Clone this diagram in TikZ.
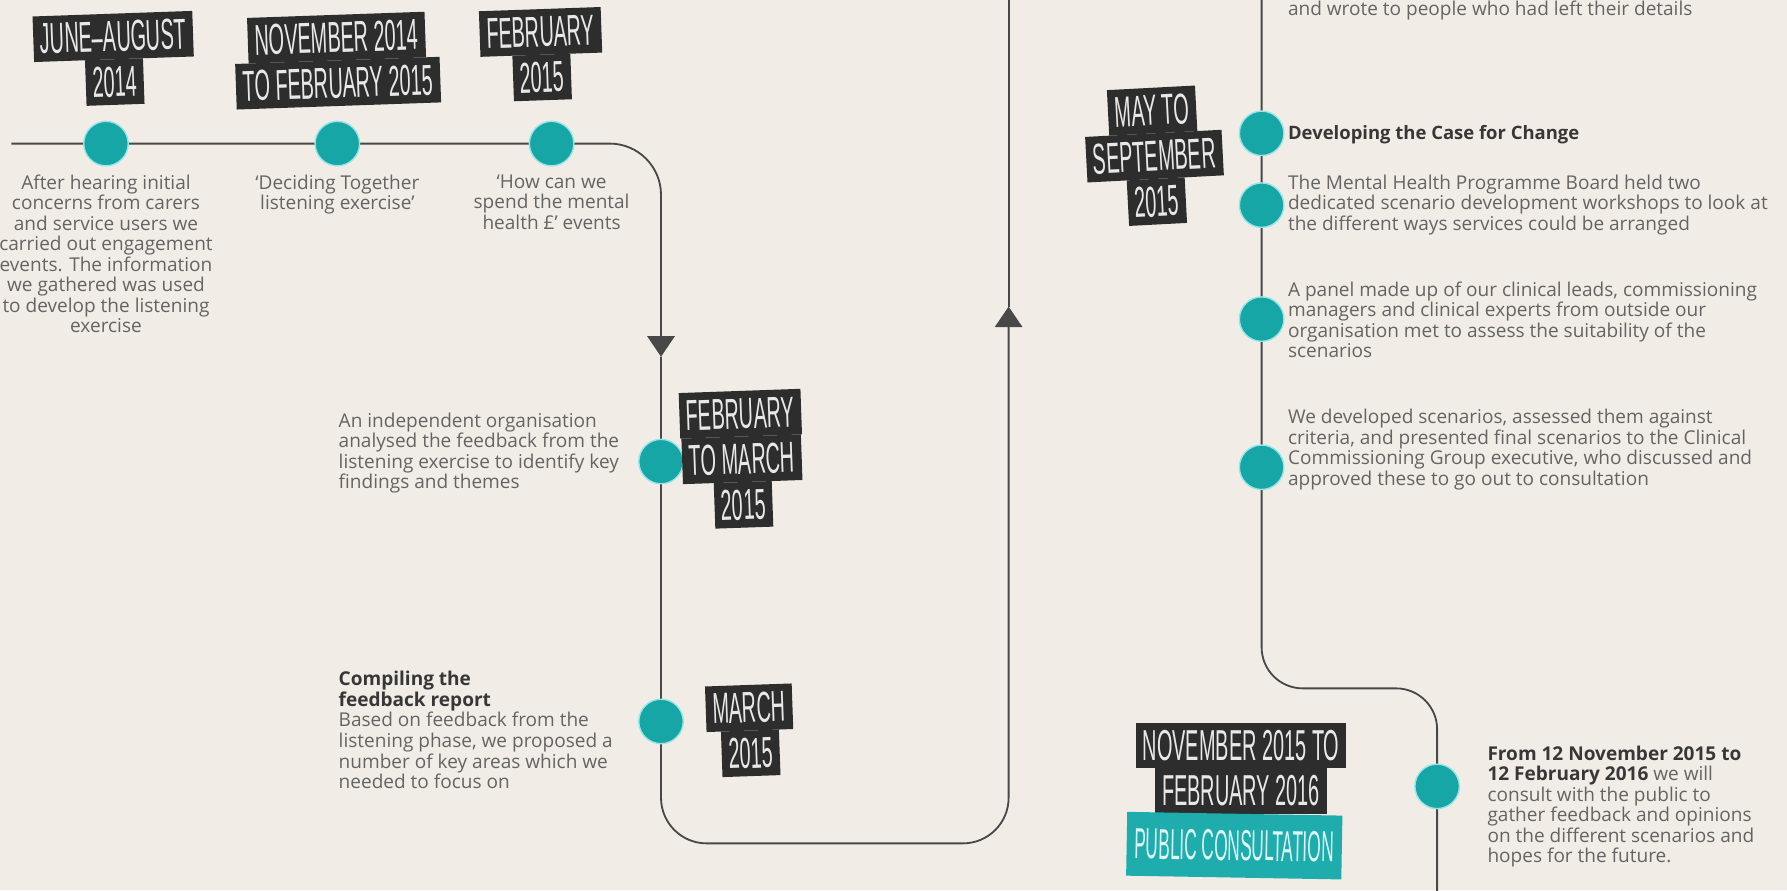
\documentclass[tikz,border=0pt]{standalone}
\usepackage{fontspec}
\setmainfont{Open Sans}
\newfontfamily\tagfont{Liberation Sans}[FakeStretch=0.46]
\newfontfamily\pubfont{Liberation Sans}[FakeStretch=0.40]
\usepackage{tikz}
\usetikzlibrary{arrows.meta, positioning, backgrounds}

\definecolor{paper}{RGB}{241,236,230}
\definecolor{dotteal}{RGB}{22,166,166}
\definecolor{dotrim}{RGB}{150,228,232}
\definecolor{pubteal}{RGB}{30,172,172}
\definecolor{tagbg}{RGB}{45,45,45}
\definecolor{tagfg}{RGB}{232,232,232}
\definecolor{pubfg}{RGB}{222,248,248}
\definecolor{linegray}{RGB}{72,72,72}
\definecolor{bodygray}{RGB}{100,100,100}
\definecolor{headgray}{RGB}{55,55,55}

\newcommand{\tagln}[1]{{\setlength{\fboxsep}{3pt}\colorbox{tagbg}{\hspace{3pt}\rule[-4pt]{0pt}{34pt}#1\hspace{3pt}}}}
\newcommand{\publn}[1]{{\setlength{\fboxsep}{3pt}\colorbox{pubteal}{\hspace{4pt}\rule[-12pt]{0pt}{50pt}#1\hspace{4pt}}}}
\newcommand{\tagstack}[1]{\vbox{\offinterlineskip\halign{\hfil##\hfil\cr#1\crcr}}}

\begin{document}
\begin{tikzpicture}[x=1pt, y=-1pt,
    dot/.style={circle, fill=dotteal, draw=dotrim, line width=1.2pt, minimum size=39pt, inner sep=0pt},
    datetag/.style={inner sep=0pt, text=tagfg, font=\tagfont\fontsize{38}{38}\selectfont},
    note/.style={inner sep=0pt, align=left, text=bodygray, font=\fontsize{16.7}{18}\selectfont},
    cnote/.style={note, align=center},
    head/.style={note, text=headgray, font=\fontsize{16.2}{18}\selectfont\bfseries},
    flow/.style={draw=linegray, line width=1.6pt},
    tip/.style={-{Triangle[width=24pt, length=18pt]}},
]
  \useasboundingbox (0,0) rectangle (1568,781);

  \node[dot] (jun14) at (93,126) {};
  \node[dot] (nov14) at (296,126) {};
  \node[dot] (feb15) at (484,126) {};
  \node[dot] (febmar15) at (580,405) {};
  \node[dot] (mar15) at (580,633) {};
  \node[dot] (casechg) at (1107,117) {};
  \node[dot] (workshops) at (1107,180) {};
  \node[dot] (panel) at (1107,280) {};
  \node[dot] (approve) at (1107,410) {};
  \node[dot] (consult) at (1261,690) {};

  \node[datetag, rotate=2] (jun14tag) at (100,52) {\tagstack{\tagln{JUNE–AUGUST}\cr\tagln{2014}}};
  \node[datetag, rotate=2] (nov14tag) at (296,53) {\tagstack{\tagln{NOVEMBER 2014}\cr\tagln{TO FEBRUARY 2015}}};
  \node[datetag, rotate=2] (feb15tag) at (475,48) {\tagstack{\tagln{FEBRUARY}\cr\tagln{2015}}};
  \node[datetag, rotate=2] (febmartag) at (651,403) {\tagstack{\tagln{FEBRUARY}\cr\tagln{TO MARCH}\cr\tagln{2015}}};
  \node[datetag, rotate=2] (mar15tag) at (658,641) {\tagstack{\tagln{MARCH}\cr\tagln{2015}}};
  \node[datetag, rotate=3] (maysep15tag) at (1013,137) {\tagstack{\tagln{MAY TO}\cr\tagln{SEPTEMBER}\cr\tagln{2015}}};
  \node[datetag] (nov15tag) at (1089,674) {\tagstack{\tagln{NOVEMBER 2015 TO}\cr\tagln{FEBRUARY 2016}}};
  \node[datetag, text=pubfg, font=\pubfont\fontsize{38}{38}\selectfont, rotate=-1] (pubtag) at (1083,742) {\publn{PUBLIC CONSULTATION}};

  \node[cnote, anchor=north] (jun14txt) at (93,153) {After hearing initial\\concerns from carers\\and service users we\\carried out engagement\\events. The information\\we gathered was used\\to develop the listening\\exercise};
  \node[cnote, anchor=north] (nov14txt) at (296,153) {‘Deciding Together\\listening exercise’};
  \node[cnote, anchor=north] (feb15txt) at (484,153) {‘How can we\\spend the mental\\health £’ events};
  \node[note, anchor=north west] (analysetxt) at (297,362) {An independent organisation\\analysed the feedback from the\\listening exercise to identify key\\findings and themes};
  \node[note, anchor=north west] (compiletxt) at (297,589) {\textbf{\color{headgray}Compiling the}\\\textbf{\color{headgray}feedback report}\\Based on feedback from the\\listening phase, we proposed a\\number of key areas which we\\needed to focus on};
  \node[note, anchor=north west] (wrotetxt) at (1130,1) {and wrote to people who had left their details};
  \node[head, anchor=north west] (casehead) at (1130,110) {Developing the Case for Change};
  \node[note, anchor=north west] (workshoptxt) at (1130,153) {The Mental Health Programme Board held two\\dedicated scenario development workshops to look at\\the different ways services could be arranged};
  \node[note, anchor=north west] (paneltxt) at (1130,247) {A panel made up of our clinical leads, commissioning\\managers and clinical experts from outside our\\organisation met to assess the suitability of the\\scenarios};
  \node[note, anchor=north west] (approvetxt) at (1130,359) {We developed scenarios, assessed them against\\criteria, and presented final scenarios to the Clinical\\Commissioning Group executive, who discussed and\\approved these to go out to consultation};
  \node[note, anchor=north west] (consulttxt) at (1305,654) {\textbf{\color{headgray}From 12 November 2015 to}\\\textbf{\color{headgray}12 February 2016} we will\\consult with the public to\\gather feedback and opinions\\on the different scenarios and\\hopes for the future.};

  \coordinate (lstart) at (10,126);
  \coordinate (bendA) at (580,126);
  \coordinate (arrdown) at (580,313);
  \coordinate (bendB) at (580,740);
  \coordinate (bendC) at (885,740);
  \coordinate (arrup) at (885,269);
  \coordinate (ltop) at (885,-5);
  \coordinate (rtop) at (1107,-5);
  \coordinate (bendD) at (1107,604);
  \coordinate (bendE) at (1261,604);
  \coordinate (rbot) at (1261,790);

  \begin{pgfonlayer}{background}
    \fill[paper] (0,0) rectangle (1568,781);
    \draw[flow, tip, rounded corners=45pt] (lstart) -- (jun14.center) -- (nov14.center) -- (feb15.center) -- (bendA) -- (arrdown);
    \draw[flow, tip, rounded corners=40pt] (arrdown) -- (febmar15.center) -- (mar15.center) -- (bendB) -- (bendC) -- (arrup);
    \draw[flow] (arrup) -- (ltop);
    \draw[flow, rounded corners=36pt] (rtop) -- (casechg.center) -- (workshops.center) -- (panel.center) -- (approve.center) -- (bendD) -- (bendE) -- (consult.center) -- (rbot);
  \end{pgfonlayer}
\end{tikzpicture}
\end{document}
